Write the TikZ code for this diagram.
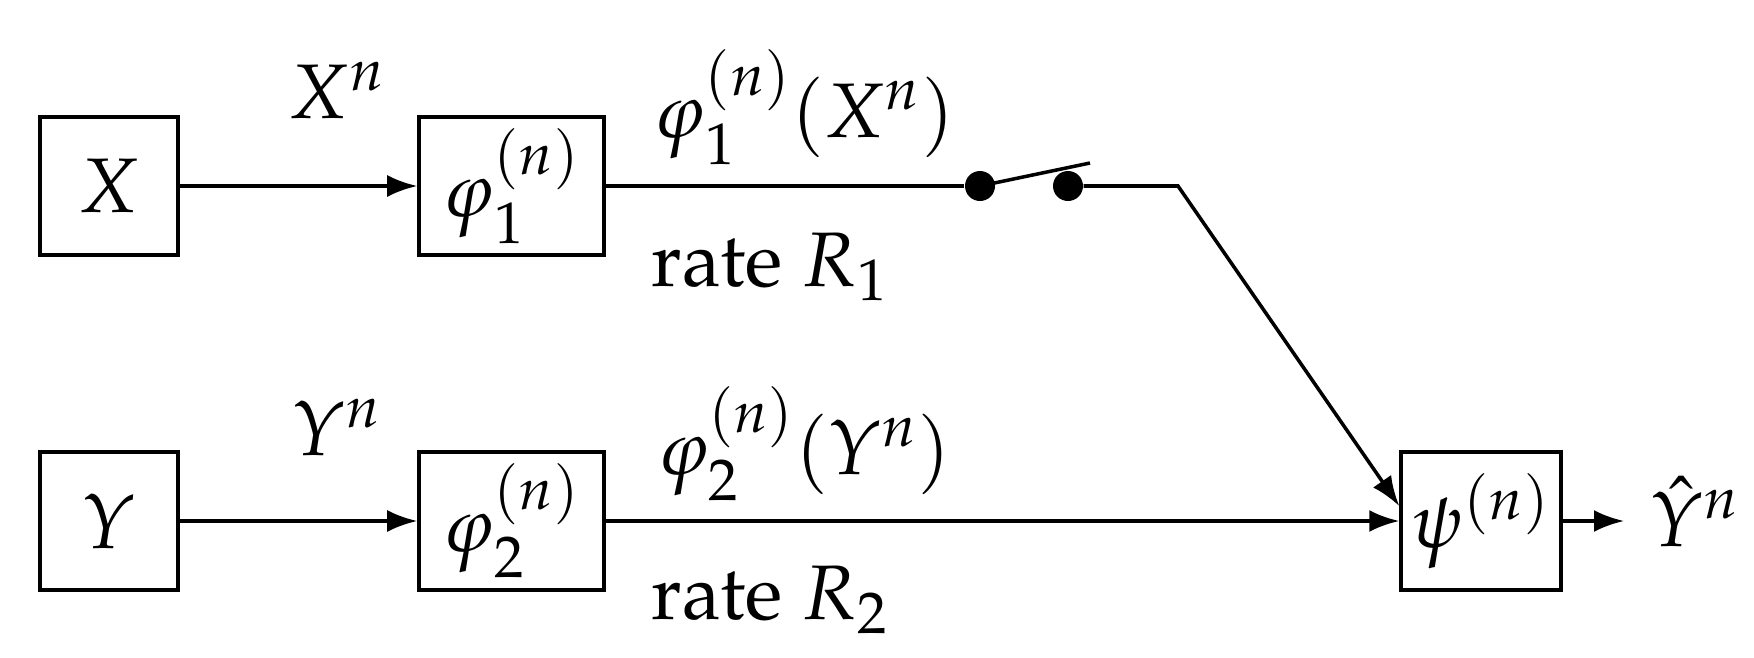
\documentclass[tikz,border=0pt]{standalone}
\usepackage[T1]{fontenc}
\usepackage{mathpazo}
\usepackage{tikz}
\usetikzlibrary{positioning}
\usetikzlibrary{arrows.meta}

\begin{document}
\begin{tikzpicture}[every node/.style = {align=center,font=\fontsize{22}{26}\selectfont},
block/.style={draw,line width=1pt,minimum height=1.38cm,inner sep=0pt},
link/.style={line width=1pt,-{Latex[length=3mm,width=2.2mm]}},
dot/.style={circle,fill,inner sep=0pt,minimum size=0.3cm}]
\useasboundingbox (0,0) rectangle (17.54,6.57);
\node[block,minimum width=1.38cm] (x) at (1.09,4.71) {$X$};
\node[block,minimum width=1.85cm] (enc1) at (5.115,4.71) {$\varphi_1^{(n)}$};
\node[block,minimum width=1.38cm] (y) at (1.09,1.36) {$Y$};
\node[block,minimum width=1.85cm] (enc2) at (5.115,1.36) {$\varphi_2^{(n)}$};
\node[block,minimum width=1.60cm] (dec) at (14.81,1.36) {$\psi^{(n)}$};
\node[dot] (s1) at (9.80,4.71) {};
\node[dot] (s2) at (10.68,4.71) {};
\coordinate (lever) at (10.9,4.94);
\coordinate (bend) at (11.78,4.71);
\coordinate (out) at (16.24,1.36);
\node[anchor=west] (yhat) at (16.38,1.45) {$\hat{Y}^n$};
% labels
\node (xn) at (3.37,5.67) {$X^n$};
\node (m1) at (8.04,5.5) {$\varphi_1^{(n)}(X^n)$};
\node (r1) at (7.70,3.9) {rate $R_1$};
\node (yn) at (3.37,2.3) {$Y^n$};
\node (m2) at (8.04,2.13) {$\varphi_2^{(n)}(Y^n)$};
\node (r2) at (7.70,0.57) {rate $R_2$};
% connections
\draw[link] (x) -- (enc1);
\draw[link] (y) -- (enc2);
\draw[line width=1pt] (enc1) -- (s1);
\draw[line width=1pt] (s1.center) -- (lever);
\draw[link] (s2) -- (bend) -- ([yshift=0.15cm]dec.west);
\draw[link] (enc2) -- (dec);
\draw[link] (dec) -- (out);
\end{tikzpicture}
\end{document}
